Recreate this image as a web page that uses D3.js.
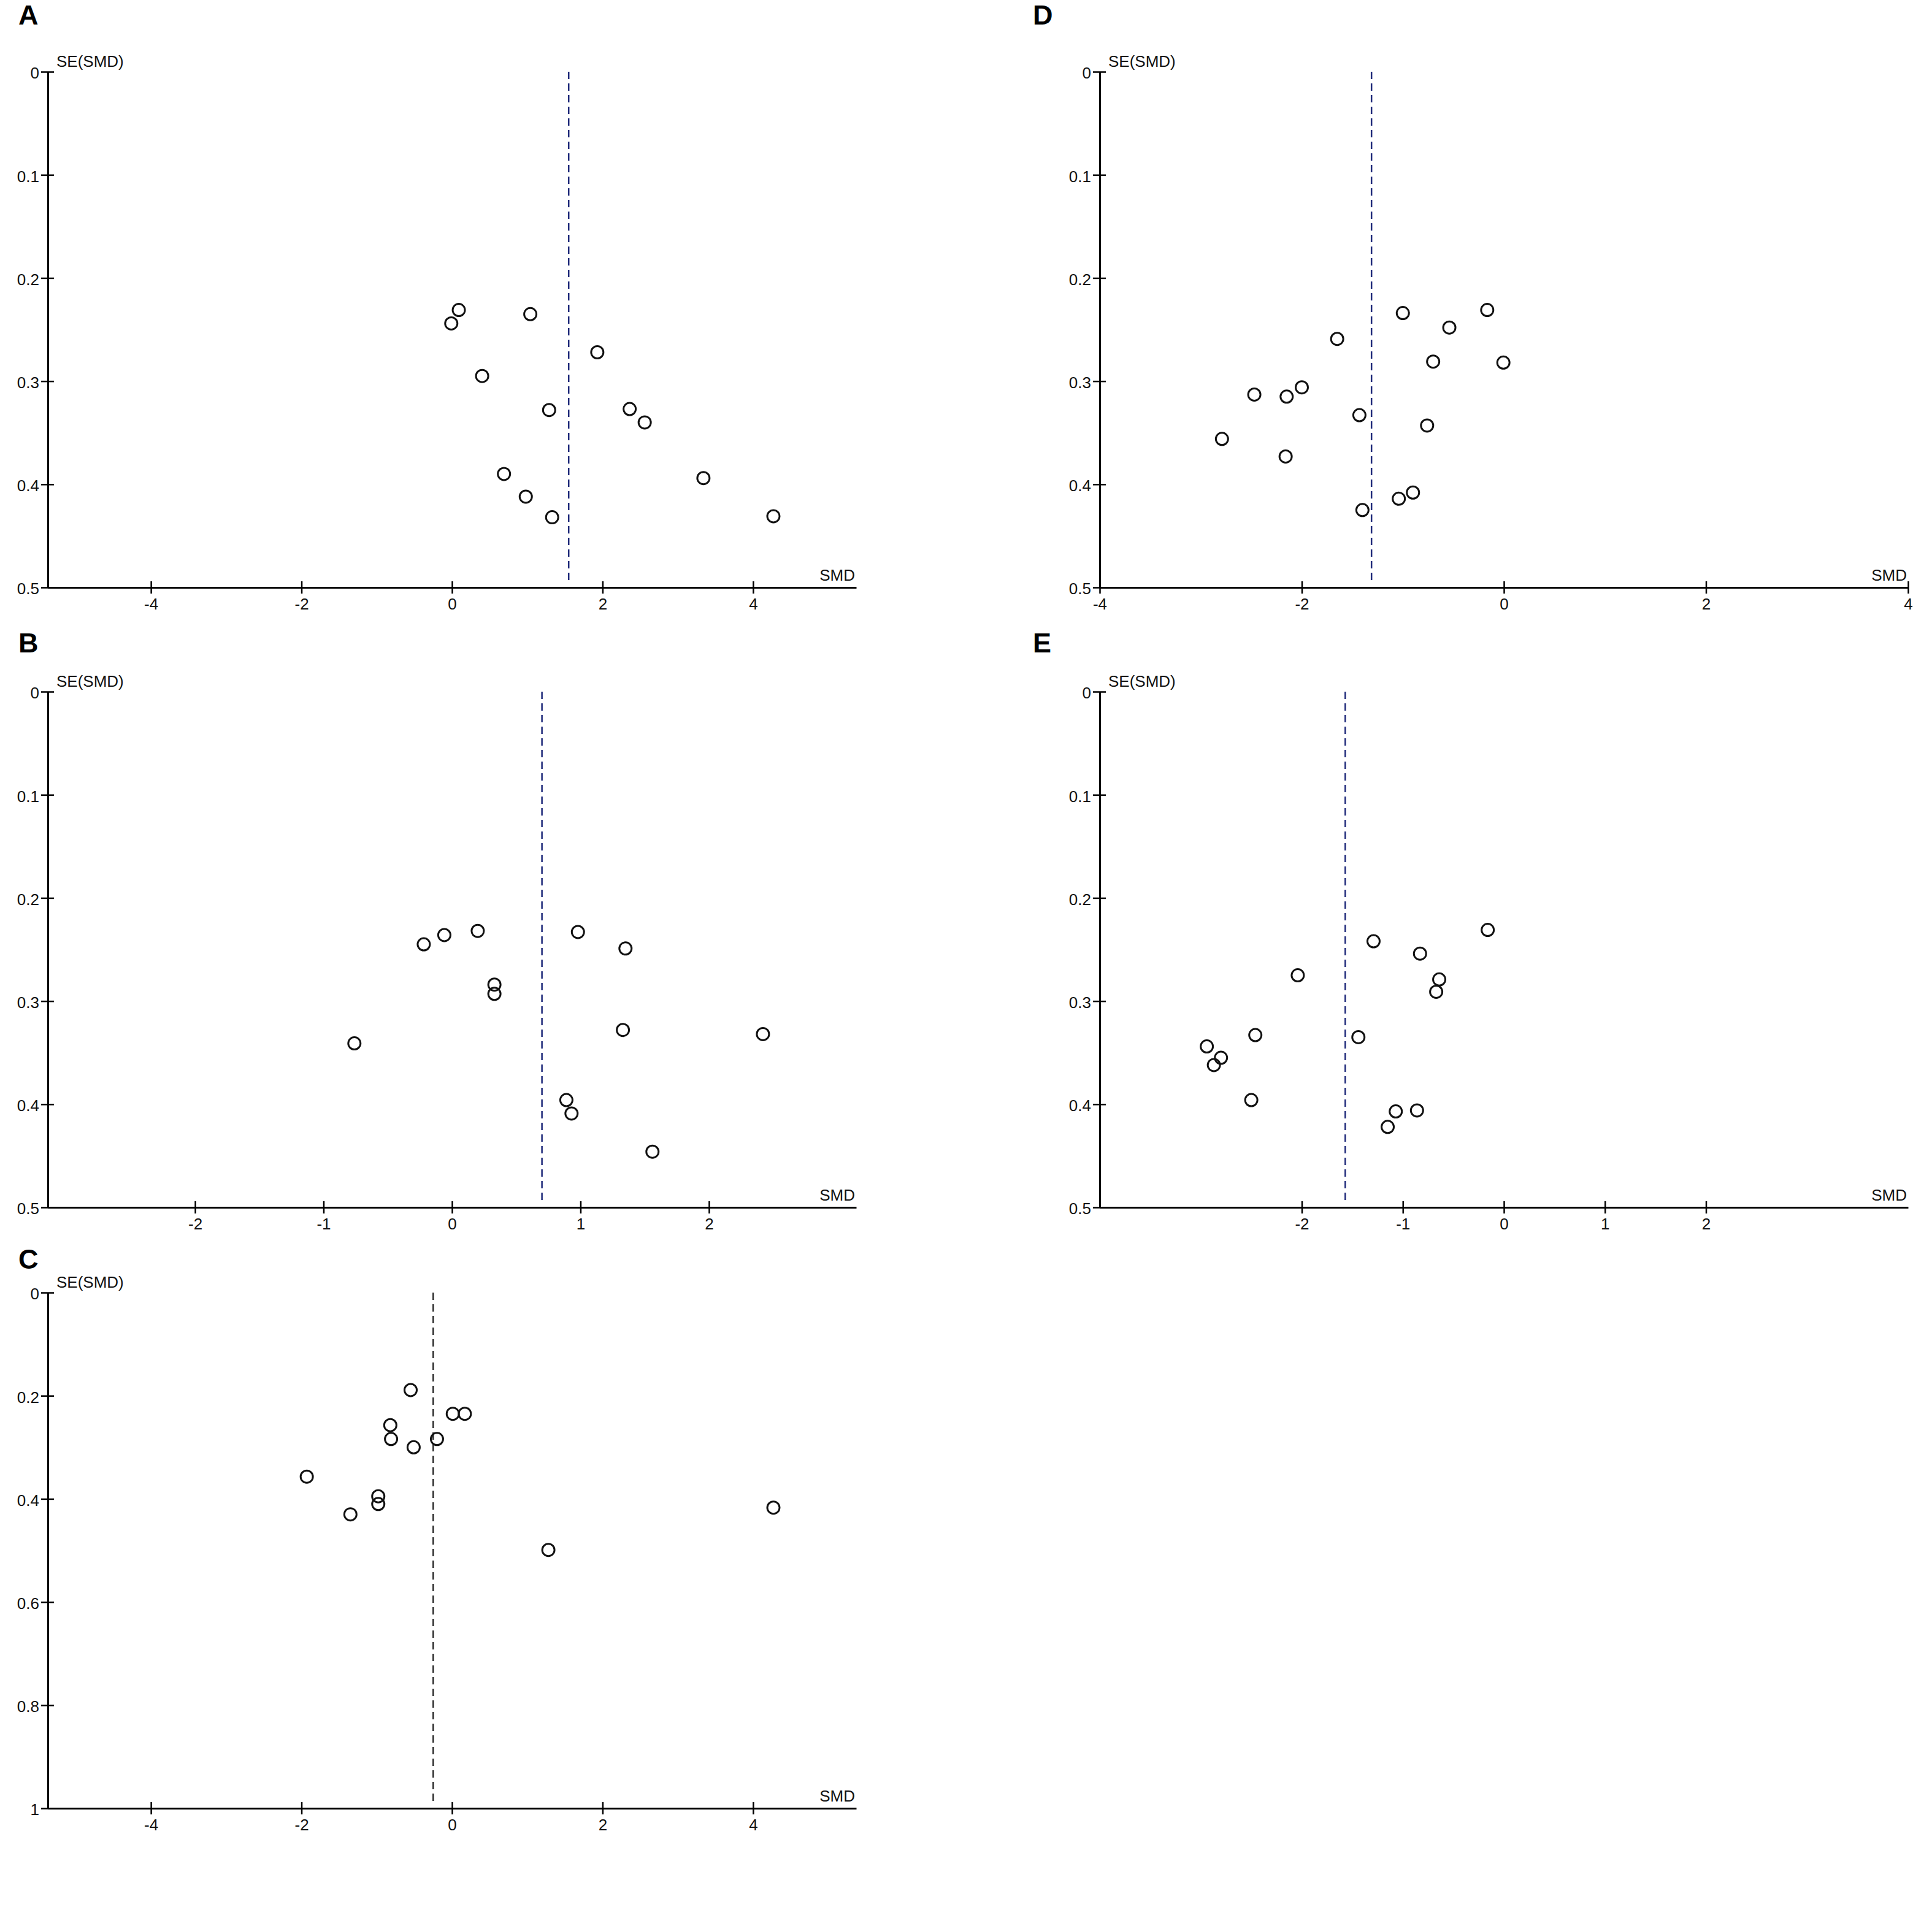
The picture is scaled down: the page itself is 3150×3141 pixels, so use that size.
<!DOCTYPE html>
<html>
<head>
<meta charset="utf-8">
<script src="https://cdn.jsdelivr.net/npm/d3@7"></script>
<style>
    body { margin: 0; background: #fff; }
    text { font-family: "Liberation Sans", Arial, sans-serif; }
</style>
</head>
<body>
<div id="chart-area"></div>
<script>

// panel A
const smdA = [0.09, -0.01, 1.04, 0.40, 1.93, 1.29, 2.36, 2.56, 0.69, 3.34, 0.98, 1.33, 4.27]
const seA = [0.231, 0.244, 0.235, 0.295, 0.272, 0.328, 0.327, 0.340, 0.390, 0.394, 0.412, 0.432, 0.431]
const pooledA = 1.55

// panel B
const smdB = [-0.22, -0.06, 0.20, 0.98, 1.35, 0.33, 0.33, -0.76, 1.33, 2.42, 0.89, 0.93, 1.56]
const seB = [0.245, 0.236, 0.232, 0.233, 0.249, 0.284, 0.293, 0.341, 0.328, 0.332, 0.396, 0.409, 0.446]
const pooledB = 0.70

// panel C
const smdC = [-0.55, 0.01, 0.17, -0.82, -0.81, -0.51, -0.20, -1.93, -0.98, -0.98, -1.35, 1.28, 4.27]
const seC = [0.189, 0.235, 0.235, 0.257, 0.284, 0.300, 0.284, 0.357, 0.395, 0.410, 0.430, 0.499, 0.417]
const pooledC = -0.25

// panel D
const smdD = [-1.00, -0.165, -0.54, -1.65, -0.70, -0.005, -2.47, -2.15, -2.00, -1.43, -0.76, -2.79, -2.16, -1.40, -1.04, -0.90]
const seD = [0.234, 0.231, 0.248, 0.259, 0.281, 0.282, 0.313, 0.315, 0.306, 0.333, 0.343, 0.356, 0.373, 0.425, 0.414, 0.408]
const pooledD = -1.31

// panel E
const smdE = [-0.16, -1.29, -0.83, -2.04, -0.64, -0.67, -2.46, -1.44, -2.94, -2.80, -2.87, -2.50, -1.07, -0.86, -1.15]
const seE = [0.231, 0.242, 0.254, 0.275, 0.279, 0.291, 0.333, 0.335, 0.344, 0.355, 0.362, 0.396, 0.407, 0.406, 0.422]
const pooledE = -1.57

// axis ticks
const xTicksWide = [-4, -2, 0, 2, 4]
const xTicksB = [-2, -1, 0, 1, 2]
const xTicksE = [-2, -1, 0, 1, 2]
const yTicksHalf = [0, 0.1, 0.2, 0.3, 0.4, 0.5]
const yTicksOne = [0, 0.2, 0.4, 0.6, 0.8, 1]

const totalWidth = 3150
const totalHeight = 3141
const FONT = 26
const BLUE = "#1f2a7a"

const svg = d3.select("#chart-area")
    .append("svg")
    .attr("width", totalWidth)
    .attr("height", totalHeight)

svg.append("rect")
    .attr("width", totalWidth)
    .attr("height", totalHeight)
    .attr("fill", "#fff")

const panels = [
    {label: "A", lx: 30, ly: 40, left: 78, right: 1396, top: 117, bottom: 958,
        xDomain: [-5.37, 5.37], xTicks: xTicksWide, yDomain: [0, 0.5], yTicks: yTicksHalf,
        smd: smdA, se: seA, pooled: pooledA, dash: BLUE},
    {label: "B", lx: 30, ly: 1064, left: 78, right: 1396, top: 1128, bottom: 1969,
        xDomain: [-3.146, 3.146], xTicks: xTicksB, yDomain: [0, 0.5], yTicks: yTicksHalf,
        smd: smdB, se: seB, pooled: pooledB, dash: BLUE},
    {label: "C", lx: 30, ly: 2069, left: 78, right: 1396, top: 2108, bottom: 2949,
        xDomain: [-5.37, 5.37], xTicks: xTicksWide, yDomain: [0, 1], yTicks: yTicksOne,
        smd: smdC, se: seC, pooled: pooledC, dash: "#2a2a2a"},
    {label: "D", lx: 1684, ly: 40, left: 1793, right: 3111, top: 117, bottom: 958,
        xDomain: [-4, 4], xTicks: xTicksWide, yDomain: [0, 0.5], yTicks: yTicksHalf,
        smd: smdD, se: seD, pooled: pooledD, dash: BLUE},
    {label: "E", lx: 1684, ly: 1064, left: 1793, right: 3111, top: 1128, bottom: 1969,
        xDomain: [-4, 4], xTicks: xTicksE, yDomain: [0, 0.5], yTicks: yTicksHalf,
        smd: smdE, se: seE, pooled: pooledE, dash: BLUE}
]

const drawPanel = function (p) {
    const g = svg.append("g")

    const xScale = d3.scaleLinear()
        .domain(p.xDomain)
        .range([p.left, p.right])
    const yScale = d3.scaleLinear()
        .domain(p.yDomain)
        .range([p.top, p.bottom])

    // panel letter
    g.append("text")
        .attr("x", p.lx)
        .attr("y", p.ly)
        .attr("font-size", "45px")
        .attr("font-weight", "bold")
        .attr("fill", "#000")
        .text(p.label)

    // pooled estimate
    g.append("line")
        .attr("x1", xScale(p.pooled))
        .attr("x2", xScale(p.pooled))
        .attr("y1", yScale(p.yDomain[0]))
        .attr("y2", yScale(p.yDomain[1]) - 6)
        .attr("stroke", p.dash)
        .attr("stroke-width", 2.5)
        .style("stroke-dasharray", ("12, 7"))

    const xAxis = g.append("g")
        .attr("transform", `translate(0, ${p.bottom})`)
        .call(d3.axisBottom(xScale)
            .tickValues(p.xTicks)
            .tickFormat(d => String(d))
            .tickSize(10)
            .tickSizeOuter(0)
            .tickPadding(8))

    const yAxis = g.append("g")
        .attr("transform", `translate(${p.left}, 0)`)
        .call(d3.axisLeft(yScale)
            .tickValues(p.yTicks)
            .tickFormat(d => String(d))
            .tickSize(11)
            .tickSizeOuter(0)
            .tickPadding(3))

    // ticks cross the axis line
    xAxis.selectAll(".tick line").attr("y1", -10)
    yAxis.selectAll(".tick line").attr("x1", 10)

    g.selectAll(".domain")
        .attr("stroke", "#000")
        .attr("stroke-width", 3)
    g.selectAll(".tick line")
        .attr("stroke", "#000")
        .attr("stroke-width", 2.5)
    g.selectAll(".tick text")
        .attr("font-size", FONT + "px")
        .attr("font-family", "'Liberation Sans', Arial, sans-serif")
        .attr("fill", "#111")
    yAxis.selectAll(".tick text").attr("dy", "0.42em")

    g.append("text")
        .attr("x", p.left + 14)
        .attr("y", p.top - 8)
        .attr("font-size", FONT + "px")
        .attr("fill", "#111")
        .text("SE(SMD)")

    g.append("text")
        .attr("x", p.right - 2)
        .attr("y", p.bottom - 11)
        .attr("font-size", FONT + "px")
        .attr("text-anchor", "end")
        .attr("fill", "#111")
        .text("SMD")

    const data = p.smd.map((d, i) => ({smd: d, se: p.se[i]}))

    g.selectAll("circle.study")
        .data(data)
        .enter()
        .append("circle")
        .attr("class", "study")
        .attr("cx", d => xScale(d.smd))
        .attr("cy", d => yScale(d.se))
        .attr("r", 10)
        .attr("fill", "none")
        .attr("stroke", "#111")
        .attr("stroke-width", 3)
}

panels.forEach(drawPanel)

</script>
</body>
</html>
